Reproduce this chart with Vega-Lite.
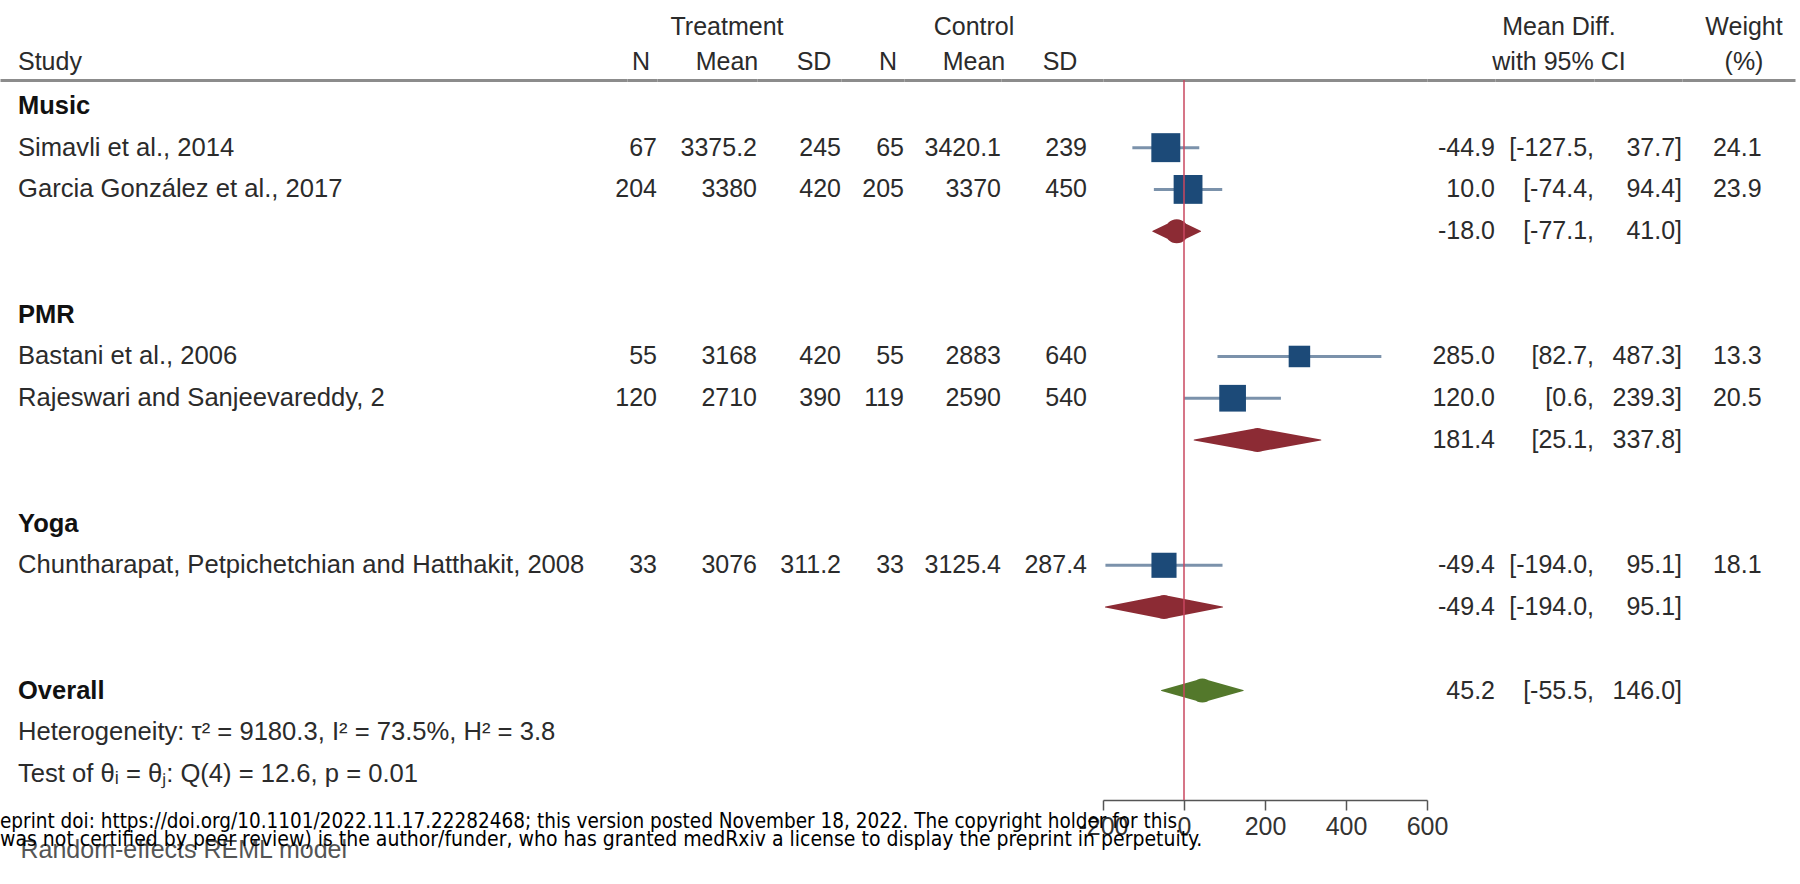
{
  "$schema": "https://vega.github.io/schema/vega-lite/v6.json",
  "background": "white",
  "padding": {"left": 0, "top": 15, "right": 5, "bottom": 0},
  "spacing": 0,
  "bounds": "flush",
  "title": {
    "text": "eprint doi: https://doi.org/10.1101/2022.11.17.22282468; this version posted November 18, 2022. The copyright holder for this",
    "subtitle": "\u00a0\u00a0\u00a0\u00a0was not certified by peer review) is the author/funder, who has granted medRxiv a license to display the preprint in perpetuity.",
    "orient": "bottom",
    "anchor": "start",
    "frame": "group",
    "offset": -50,
    "font": "Liberation Sans Narrow, DejaVu Sans Condensed, Liberation Sans",
    "fontSize": 20.5,
    "fontWeight": "normal",
    "color": "#000000",
    "subtitleFont": "Liberation Sans Narrow, DejaVu Sans Condensed, Liberation Sans",
    "subtitleFontSize": 21,
    "subtitleColor": "#000000",
    "subtitlePadding": -4,
    "lineHeight": 20,
    "subtitleLineHeight": 20
  },
  "data": {
    "values": [
      {"id": "g_music", "kind": "group", "label": "Music"},
      {"id": "simavli", "kind": "study", "label": "Simavli et al., 2014", "n_t": 67, "mean_t": 3375.2, "sd_t": 245, "n_c": 65, "mean_c": 3420.1, "sd_c": 239, "md": -44.9, "lo": -127.5, "hi": 37.7, "lo_txt": "[-127.5,", "hi_txt": "37.7]", "weight": 24.1},
      {"id": "garcia", "kind": "study", "label": "Garcia González et al., 2017", "n_t": 204, "mean_t": 3380, "sd_t": 420, "n_c": 205, "mean_c": 3370, "sd_c": 450, "md": 10.0, "lo": -74.4, "hi": 94.4, "lo_txt": "[-74.4,", "hi_txt": "94.4]", "weight": 23.9},
      {"id": "sub_music", "kind": "subtotal", "md": -18.0, "lo": -77.1, "hi": 41.0, "lo_txt": "[-77.1,", "hi_txt": "41.0]"},
      {"id": "g_pmr", "kind": "group", "label": "PMR"},
      {"id": "bastani", "kind": "study", "label": "Bastani et al., 2006", "n_t": 55, "mean_t": 3168, "sd_t": 420, "n_c": 55, "mean_c": 2883, "sd_c": 640, "md": 285.0, "lo": 82.7, "hi": 487.3, "lo_txt": "[82.7,", "hi_txt": "487.3]", "weight": 13.3},
      {"id": "rajeswari", "kind": "study", "label": "Rajeswari and Sanjeevareddy, 2", "n_t": 120, "mean_t": 2710, "sd_t": 390, "n_c": 119, "mean_c": 2590, "sd_c": 540, "md": 120.0, "lo": 0.6, "hi": 239.3, "lo_txt": "[0.6,", "hi_txt": "239.3]", "weight": 20.5},
      {"id": "sub_pmr", "kind": "subtotal", "md": 181.4, "lo": 25.1, "hi": 337.8, "lo_txt": "[25.1,", "hi_txt": "337.8]"},
      {"id": "g_yoga", "kind": "group", "label": "Yoga"},
      {"id": "chunth", "kind": "study", "label": "Chuntharapat, Petpichetchian and Hatthakit, 2008", "n_t": 33, "mean_t": 3076, "sd_t": 311.2, "n_c": 33, "mean_c": 3125.4, "sd_c": 287.4, "md": -49.4, "lo": -194.0, "hi": 95.1, "lo_txt": "[-194.0,", "hi_txt": "95.1]", "weight": 18.1},
      {"id": "sub_yoga", "kind": "subtotal", "md": -49.4, "lo": -194.0, "hi": 95.1, "lo_txt": "[-194.0,", "hi_txt": "95.1]"},
      {"id": "overall", "kind": "overall", "label": "Overall", "md": 45.2, "lo": -55.5, "hi": 146.0, "lo_txt": "[-55.5,", "hi_txt": "146.0]"},
      {"id": "het", "kind": "note", "label": "Heterogeneity: τ² = 9180.3, I² = 73.5%, H² = 3.8"},
      {"id": "test", "kind": "note", "label": "Test of θᵢ = θⱼ: Q(4) = 12.6, p = 0.01"}
    ]
  },
  "hconcat": [
    {
      "width": 627, "height": 720,
      "title": {"text": "Study", "anchor": "start", "align": "left", "dx": 18},
      "layer": [
        {
          "transform": [{"filter": "datum.kind == 'group' || datum.kind == 'overall'"}],
          "mark": {"type": "text", "align": "left", "fontWeight": "bold", "color": "#111111", "fontSize": 25.5},
          "encoding": {
            "x": {"datum": 0, "type": "quantitative", "scale": {"domain": [-0.0296, 1], "nice": false, "zero": false}, "axis": {"orient": "top", "domain": true, "domainColor": "#8c8c8c", "domainWidth": 3, "ticks": false, "labels": false, "title": null, "grid": false, "minExtent": 0}},
            "y": {"field": "id", "type": "nominal", "scale": {"type": "point", "domain": ["g_music", "simavli", "garcia", "sub_music", "gap1", "g_pmr", "bastani", "rajeswari", "sub_pmr", "gap2", "g_yoga", "chunth", "sub_yoga", "gap3", "overall", "het", "test"], "padding": 0.62}, "axis": null},
            "text": {"field": "label", "type": "nominal"}
          }
        },
        {
          "transform": [{"filter": "datum.kind == 'study' || datum.kind == 'note'"}],
          "mark": {"type": "text", "align": "left", "fontSize": 25.6},
          "encoding": {
            "x": {"datum": 0, "type": "quantitative", "axis": {"orient": "bottom", "domain": false, "ticks": false, "labels": false, "grid": false, "title": "Random-effects REML model", "titleFontSize": 25, "titleFontWeight": "normal", "titleColor": "#555555", "titleAnchor": "start", "titleAlign": "left", "titleX": 20, "titlePadding": 37, "minExtent": 0}},
            "y": {"field": "id", "type": "nominal", "scale": {"type": "point", "domain": ["g_music", "simavli", "garcia", "sub_music", "gap1", "g_pmr", "bastani", "rajeswari", "sub_pmr", "gap2", "g_yoga", "chunth", "sub_yoga", "gap3", "overall", "het", "test"], "padding": 0.62}, "axis": null},
            "text": {"field": "label", "type": "nominal"}
          }
        }
      ],
      "resolve": {"axis": {"x": "independent"}}
    },
    {
      "width": 30, "height": 720,
      "title": {"text": "N", "anchor": "end", "align": "center", "dx": -16},
      "transform": [{"filter": "datum.kind == 'study'"}],
      "mark": {"type": "text", "align": "right"},
      "encoding": {
        "x": {"datum": 1, "type": "quantitative", "scale": {"domain": [0, 1], "nice": false}, "axis": {"orient": "top", "domain": true, "domainColor": "#8c8c8c", "domainWidth": 3, "ticks": false, "labels": false, "title": null, "grid": false, "minExtent": 0}},
        "y": {"field": "id", "type": "nominal", "scale": {"type": "point", "domain": ["g_music", "simavli", "garcia", "sub_music", "gap1", "g_pmr", "bastani", "rajeswari", "sub_pmr", "gap2", "g_yoga", "chunth", "sub_yoga", "gap3", "overall", "het", "test"], "padding": 0.62}, "axis": null},
        "text": {"field": "n_t", "type": "nominal"}
      }
    },
    {
      "width": 100, "height": 720,
      "title": {"text": ["Treatment", "Mean"], "anchor": "end", "align": "center", "dx": -30},
      "transform": [{"filter": "datum.kind == 'study'"}],
      "mark": {"type": "text", "align": "right"},
      "encoding": {
        "x": {"datum": 1, "type": "quantitative", "scale": {"domain": [0, 1], "nice": false}, "axis": {"orient": "top", "domain": true, "domainColor": "#8c8c8c", "domainWidth": 3, "ticks": false, "labels": false, "title": null, "grid": false, "minExtent": 0}},
        "y": {"field": "id", "type": "nominal", "scale": {"type": "point", "domain": ["g_music", "simavli", "garcia", "sub_music", "gap1", "g_pmr", "bastani", "rajeswari", "sub_pmr", "gap2", "g_yoga", "chunth", "sub_yoga", "gap3", "overall", "het", "test"], "padding": 0.62}, "axis": null},
        "text": {"field": "mean_t", "type": "nominal"}
      }
    },
    {
      "width": 84, "height": 720,
      "title": {"text": "SD", "anchor": "end", "align": "center", "dx": -27},
      "transform": [{"filter": "datum.kind == 'study'"}],
      "mark": {"type": "text", "align": "right"},
      "encoding": {
        "x": {"datum": 1, "type": "quantitative", "scale": {"domain": [0, 1], "nice": false}, "axis": {"orient": "top", "domain": true, "domainColor": "#8c8c8c", "domainWidth": 3, "ticks": false, "labels": false, "title": null, "grid": false, "minExtent": 0}},
        "y": {"field": "id", "type": "nominal", "scale": {"type": "point", "domain": ["g_music", "simavli", "garcia", "sub_music", "gap1", "g_pmr", "bastani", "rajeswari", "sub_pmr", "gap2", "g_yoga", "chunth", "sub_yoga", "gap3", "overall", "het", "test"], "padding": 0.62}, "axis": null},
        "text": {"field": "sd_t", "type": "nominal"}
      }
    },
    {
      "width": 63, "height": 720,
      "title": {"text": "N", "anchor": "end", "align": "center", "dx": -16},
      "transform": [{"filter": "datum.kind == 'study'"}],
      "mark": {"type": "text", "align": "right"},
      "encoding": {
        "x": {"datum": 1, "type": "quantitative", "scale": {"domain": [0, 1], "nice": false}, "axis": {"orient": "top", "domain": true, "domainColor": "#8c8c8c", "domainWidth": 3, "ticks": false, "labels": false, "title": null, "grid": false, "minExtent": 0}},
        "y": {"field": "id", "type": "nominal", "scale": {"type": "point", "domain": ["g_music", "simavli", "garcia", "sub_music", "gap1", "g_pmr", "bastani", "rajeswari", "sub_pmr", "gap2", "g_yoga", "chunth", "sub_yoga", "gap3", "overall", "het", "test"], "padding": 0.62}, "axis": null},
        "text": {"field": "n_c", "type": "nominal"}
      }
    },
    {
      "width": 97, "height": 720,
      "title": {"text": ["Control", "Mean"], "anchor": "end", "align": "center", "dx": -27},
      "transform": [{"filter": "datum.kind == 'study'"}],
      "mark": {"type": "text", "align": "right"},
      "encoding": {
        "x": {"datum": 1, "type": "quantitative", "scale": {"domain": [0, 1], "nice": false}, "axis": {"orient": "top", "domain": true, "domainColor": "#8c8c8c", "domainWidth": 3, "ticks": false, "labels": false, "title": null, "grid": false, "minExtent": 0}},
        "y": {"field": "id", "type": "nominal", "scale": {"type": "point", "domain": ["g_music", "simavli", "garcia", "sub_music", "gap1", "g_pmr", "bastani", "rajeswari", "sub_pmr", "gap2", "g_yoga", "chunth", "sub_yoga", "gap3", "overall", "het", "test"], "padding": 0.62}, "axis": null},
        "text": {"field": "mean_c", "type": "nominal"}
      }
    },
    {
      "width": 102, "height": 720,
      "title": {"text": "SD", "anchor": "start", "align": "center", "dx": 59},
      "transform": [{"filter": "datum.kind == 'study'"}],
      "mark": {"type": "text", "align": "right"},
      "encoding": {
        "x": {"datum": 1, "type": "quantitative", "scale": {"domain": [0, 1.186], "nice": false}, "axis": {"orient": "top", "domain": true, "domainColor": "#8c8c8c", "domainWidth": 3, "ticks": false, "labels": false, "title": null, "grid": false, "minExtent": 0}},
        "y": {"field": "id", "type": "nominal", "scale": {"type": "point", "domain": ["g_music", "simavli", "garcia", "sub_music", "gap1", "g_pmr", "bastani", "rajeswari", "sub_pmr", "gap2", "g_yoga", "chunth", "sub_yoga", "gap3", "overall", "het", "test"], "padding": 0.62}, "axis": null},
        "text": {"field": "sd_c", "type": "nominal"}
      }
    },
    {
      "width": 324, "height": 720,
      "layer": [
        {
          "transform": [{"filter": "datum.kind == 'study'"}],
          "mark": {"type": "rule", "strokeWidth": 3, "color": "#7b92ab"},
          "encoding": {
            "x": {"field": "lo", "type": "quantitative", "scale": {"domain": [-200, 600], "nice": false}, "axis": {"orient": "bottom", "values": [-200, 0, 200, 400, 600], "format": "d", "domain": true, "domainColor": "#555555", "domainWidth": 1.5, "ticks": true, "tickColor": "#555555", "tickWidth": 1.5, "tickSize": 10, "labelFontSize": 25, "labelColor": "#333333", "labelPadding": 4, "labelFlush": false, "labelOverlap": false, "title": null, "grid": false}},
            "x2": {"field": "hi"},
            "y": {"field": "id", "type": "nominal", "scale": {"type": "point", "domain": ["g_music", "simavli", "garcia", "sub_music", "gap1", "g_pmr", "bastani", "rajeswari", "sub_pmr", "gap2", "g_yoga", "chunth", "sub_yoga", "gap3", "overall", "het", "test"], "padding": 0.62}, "axis": null}
          }
        },
        {
          "transform": [{"filter": "datum.kind == 'study'"}],
          "mark": {"type": "point", "shape": "square", "filled": true, "opacity": 1, "color": "#1c4a78"},
          "encoding": {
            "x": {"field": "md", "type": "quantitative", "axis": null},
            "y": {"field": "id", "type": "nominal", "scale": {"type": "point", "domain": ["g_music", "simavli", "garcia", "sub_music", "gap1", "g_pmr", "bastani", "rajeswari", "sub_pmr", "gap2", "g_yoga", "chunth", "sub_yoga", "gap3", "overall", "het", "test"], "padding": 0.62}, "axis": null},
            "size": {"field": "weight", "type": "quantitative", "scale": {"type": "linear", "domain": [0, 25], "range": [0, 870]}, "legend": null}
          }
        },
        {
          "transform": [
            {"filter": "datum.kind == 'subtotal' || datum.kind == 'overall'"},
            {"fold": ["lo", "md", "hi"], "as": ["part", "val"]}
          ],
          "mark": {"type": "trail"},
          "encoding": {
            "x": {"field": "val", "type": "quantitative", "axis": null},
            "y": {"field": "id", "type": "nominal", "scale": {"type": "point", "domain": ["g_music", "simavli", "garcia", "sub_music", "gap1", "g_pmr", "bastani", "rajeswari", "sub_pmr", "gap2", "g_yoga", "chunth", "sub_yoga", "gap3", "overall", "het", "test"], "padding": 0.62}, "axis": null},
            "size": {"field": "part", "type": "ordinal", "scale": {"type": "ordinal", "domain": ["lo", "md", "hi"], "range": [0, 24, 0]}, "legend": null},
            "color": {"field": "kind", "type": "nominal", "scale": {"domain": ["subtotal", "overall"], "range": ["#8c2b34", "#53782b"]}, "legend": null},
            "detail": {"field": "id"},
            "order": {"field": "val", "type": "quantitative"}
          }
        },
        {
          "transform": [{"aggregate": [{"op": "count", "as": "n"}]}],
          "mark": {"type": "rule", "color": "#c8475f", "strokeWidth": 1.5},
          "encoding": {
            "x": {"datum": 0, "type": "quantitative", "axis": {"orient": "top", "domain": true, "domainColor": "#8c8c8c", "domainWidth": 3, "ticks": false, "labels": false, "title": null, "grid": false, "minExtent": 0}}
          }
        }
      ],
      "resolve": {"axis": {"x": "independent"}, "scale": {"size": "independent"}}
    },
    {
      "width": 68, "height": 720,
      "transform": [{"filter": "datum.kind == 'study' || datum.kind == 'subtotal' || datum.kind == 'overall'"}],
      "mark": {"type": "text", "align": "right"},
      "encoding": {
        "x": {"datum": 1, "type": "quantitative", "scale": {"domain": [0, 1], "nice": false}, "axis": {"orient": "top", "domain": true, "domainColor": "#8c8c8c", "domainWidth": 3, "ticks": false, "labels": false, "title": null, "grid": false, "minExtent": 0}},
        "y": {"field": "id", "type": "nominal", "scale": {"type": "point", "domain": ["g_music", "simavli", "garcia", "sub_music", "gap1", "g_pmr", "bastani", "rajeswari", "sub_pmr", "gap2", "g_yoga", "chunth", "sub_yoga", "gap3", "overall", "het", "test"], "padding": 0.62}, "axis": null},
        "text": {"field": "md", "type": "quantitative", "format": ".1f"}
      }
    },
    {
      "width": 99, "height": 720,
      "title": {"text": ["Mean Diff.", "with 95% CI"], "anchor": "end", "align": "center", "dx": -35},
      "transform": [{"filter": "datum.kind == 'study' || datum.kind == 'subtotal' || datum.kind == 'overall'"}],
      "mark": {"type": "text", "align": "right"},
      "encoding": {
        "x": {"datum": 1, "type": "quantitative", "scale": {"domain": [0, 1], "nice": false}, "axis": {"orient": "top", "domain": true, "domainColor": "#8c8c8c", "domainWidth": 3, "ticks": false, "labels": false, "title": null, "grid": false, "minExtent": 0}},
        "y": {"field": "id", "type": "nominal", "scale": {"type": "point", "domain": ["g_music", "simavli", "garcia", "sub_music", "gap1", "g_pmr", "bastani", "rajeswari", "sub_pmr", "gap2", "g_yoga", "chunth", "sub_yoga", "gap3", "overall", "het", "test"], "padding": 0.62}, "axis": null},
        "text": {"field": "lo_txt", "type": "nominal"}
      }
    },
    {
      "width": 88, "height": 720,
      "transform": [{"filter": "datum.kind == 'study' || datum.kind == 'subtotal' || datum.kind == 'overall'"}],
      "mark": {"type": "text", "align": "right"},
      "encoding": {
        "x": {"datum": 1, "type": "quantitative", "scale": {"domain": [0, 1], "nice": false}, "axis": {"orient": "top", "domain": true, "domainColor": "#8c8c8c", "domainWidth": 3, "ticks": false, "labels": false, "title": null, "grid": false, "minExtent": 0}},
        "y": {"field": "id", "type": "nominal", "scale": {"type": "point", "domain": ["g_music", "simavli", "garcia", "sub_music", "gap1", "g_pmr", "bastani", "rajeswari", "sub_pmr", "gap2", "g_yoga", "chunth", "sub_yoga", "gap3", "overall", "het", "test"], "padding": 0.62}, "axis": null},
        "text": {"field": "hi_txt", "type": "nominal"}
      }
    },
    {
      "width": 113, "height": 720,
      "title": {"text": ["Weight", "(%)"], "anchor": "start", "align": "center", "dx": 62},
      "transform": [{"filter": "datum.kind == 'study'"}],
      "mark": {"type": "text", "align": "right"},
      "encoding": {
        "x": {"datum": 1, "type": "quantitative", "scale": {"domain": [0, 1.42], "nice": false}, "axis": {"orient": "top", "domain": true, "domainColor": "#8c8c8c", "domainWidth": 3, "ticks": false, "labels": false, "title": null, "grid": false, "minExtent": 0}},
        "y": {"field": "id", "type": "nominal", "scale": {"type": "point", "domain": ["g_music", "simavli", "garcia", "sub_music", "gap1", "g_pmr", "bastani", "rajeswari", "sub_pmr", "gap2", "g_yoga", "chunth", "sub_yoga", "gap3", "overall", "het", "test"], "padding": 0.62}, "axis": null},
        "text": {"field": "weight", "type": "quantitative", "format": ".1f"}
      }
    }
  ],
  "resolve": {"scale": {"x": "independent", "y": "independent"}},
  "config": {
    "view": {"stroke": null},
    "font": "Liberation Sans",
    "locale": {"number": {"decimal": ".", "thousands": ",", "grouping": [3], "currency": ["$", ""], "minus": "-"}},
    "text": {"fontSize": 25, "color": "#2b2b2b", "baseline": "middle"},
    "title": {"fontSize": 25, "fontWeight": "normal", "color": "#2b2b2b", "lineHeight": 35, "offset": 5, "frame": "group"},
    "axis": {"grid": false}
  }
}
